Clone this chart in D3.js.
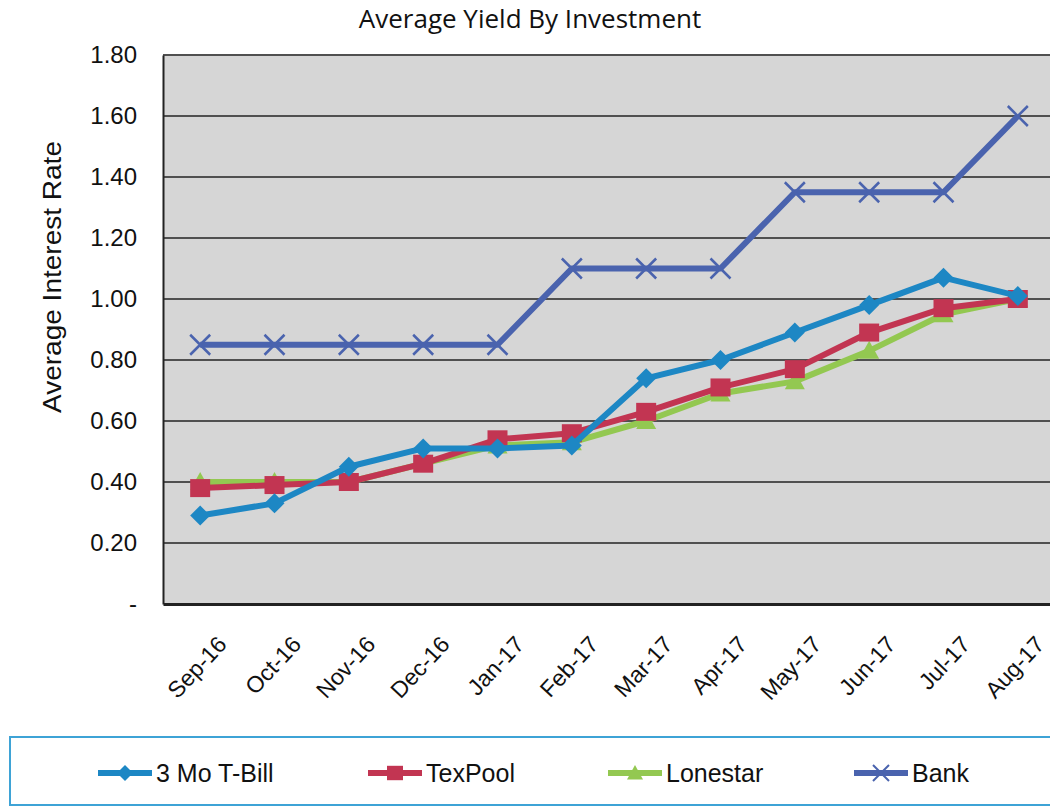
<!DOCTYPE html>
<html>
<head>
<meta charset="utf-8">
<script src="https://cdn.jsdelivr.net/npm/d3@7"></script>
<style>
  body { margin: 0; background: #fff; }
  svg { display: block; }
</style>
</head>
<body>
<svg id="chart" width="1050" height="808"></svg>
<script>
const months = ["Sep-16", "Oct-16", "Nov-16", "Dec-16", "Jan-17", "Feb-17", "Mar-17", "Apr-17", "May-17", "Jun-17", "Jul-17", "Aug-17"];
const tBill = [0.29, 0.33, 0.45, 0.51, 0.51, 0.52, 0.74, 0.80, 0.89, 0.98, 1.07, 1.01];
const texPool = [0.38, 0.39, 0.40, 0.46, 0.54, 0.56, 0.63, 0.71, 0.77, 0.89, 0.97, 1.00];
const lonestar = [0.40, 0.40, 0.40, 0.46, 0.52, 0.53, 0.60, 0.69, 0.73, 0.83, 0.95, 1.00];
const bank = [0.85, 0.85, 0.85, 0.85, 0.85, 1.10, 1.10, 1.10, 1.35, 1.35, 1.35, 1.60];
const yTicks = [0, 0.2, 0.4, 0.6, 0.8, 1.0, 1.2, 1.4, 1.6, 1.8];

const series = [
	{name: "3 Mo T-Bill", values: tBill, color: "#1d87c4", marker: "diamond"},
	{name: "TexPool", values: texPool, color: "#c23552", marker: "square"},
	{name: "Lonestar", values: lonestar, color: "#93c851", marker: "triangle"},
	{name: "Bank", values: bank, color: "#4a63ae", marker: "x"}
];

const svg = d3.select("#chart");
const plotLeft = 163, plotRight = 1055, plotTop = 55, plotBottom = 604;
const font = "'Liberation Sans', Arial, sans-serif";

const x = d3.scaleBand().domain(months).range([plotLeft, plotRight]);
const y = d3.scaleLinear().domain([0, 1.8]).range([plotBottom, plotTop]);

svg.append("text")
	.attr("x", 530).attr("y", 28)
	.attr("text-anchor", "middle")
	.style("font-family", "'Open Sans', sans-serif")
	.style("font-size", "26px")
	.attr("fill", "#111")
	.text("Average Yield By Investment");

// plot background
svg.append("rect")
	.attr("x", plotLeft).attr("y", plotTop)
	.attr("width", plotRight - plotLeft).attr("height", plotBottom - plotTop)
	.attr("fill", "#d6d6d6");

// gridlines
svg.append("g")
	.selectAll("line")
	.data(yTicks.filter(d => d > 0))
	.join("line")
	.attr("x1", plotLeft).attr("x2", plotRight)
	.attr("y1", d => y(d)).attr("y2", d => y(d))
	.attr("stroke", "#505050")
	.attr("stroke-width", 2);

// y axis
const yAxis = svg.append("g")
	.attr("transform", `translate(${plotLeft},0)`)
	.call(d3.axisLeft(y).tickValues(yTicks).tickSize(0).tickPadding(26)
		.tickFormat(d => d === 0 ? "-" : d3.format(".2f")(d)));
yAxis.select(".domain").attr("stroke", "#222").attr("stroke-width", 2);
yAxis.selectAll("text")
	.style("font-family", font)
	.style("font-size", "24px")
	.attr("fill", "#111");

// x axis
const xAxis = svg.append("g")
	.attr("transform", `translate(0,${plotBottom})`)
	.call(d3.axisBottom(x).tickSize(0));
xAxis.select(".domain").attr("stroke", "#222").attr("stroke-width", 3);
xAxis.selectAll("text")
	.style("font-family", font)
	.style("font-size", "23px")
	.attr("fill", "#111")
	.attr("text-anchor", "end")
	.attr("x", 0).attr("y", 0)
	.attr("dy", "0.35em")
	.attr("transform", "translate(22,36) rotate(-47)");

svg.append("text")
	.attr("transform", "translate(61,277) rotate(-90)")
	.attr("text-anchor", "middle")
	.attr("textLength", 272)
	.attr("lengthAdjust", "spacingAndGlyphs")
	.style("font-family", font)
	.style("font-size", "25px")
	.attr("fill", "#111")
	.text("Average Interest Rate");

function markerPath(type) {
	if (type === "diamond") return "M0,-10L10,0L0,10L-10,0Z";
	if (type === "square") return "M-10,-9H10V9H-10Z";
	if (type === "triangle") return "M0,-10L10,8H-10Z";
	return "M-10,-10L10,10M10,-10L-10,10";
}

function drawMarker(sel, s) {
	const p = sel.append("path").attr("d", markerPath(s.marker));
	if (s.marker === "x") p.attr("fill", "none").attr("stroke", s.color).attr("stroke-width", 2.5);
	else p.attr("fill", s.color);
}

const line = d3.line()
	.x((d, i) => x(months[i]) + x.bandwidth() / 2)
	.y(d => y(d));

const plot = svg.append("g");
series.slice().reverse().forEach(s => {
	const g = plot.append("g");
	g.append("path")
		.attr("d", line(s.values))
		.attr("fill", "none")
		.attr("stroke", s.color)
		.attr("stroke-width", 6)
		.attr("stroke-linejoin", "round");
	s.values.forEach((v, i) => {
		const m = g.append("g")
			.attr("transform", `translate(${x(months[i]) + x.bandwidth() / 2},${y(v)})`);
		drawMarker(m, s);
	});
});

// legend
svg.append("rect")
	.attr("x", 10).attr("y", 737)
	.attr("width", 1060).attr("height", 68)
	.attr("fill", "#fff")
	.attr("stroke", "#3ea3d6")
	.attr("stroke-width", 2);

const legendX = [98, 368, 608, 854];
series.forEach((s, i) => {
	const g = svg.append("g").attr("transform", `translate(${legendX[i]},773)`);
	g.append("line")
		.attr("x1", 0).attr("x2", 54)
		.attr("stroke", s.color).attr("stroke-width", 6);
	const m = g.append("g").attr("transform", "translate(27,0) scale(0.8)");
	drawMarker(m, s);
	g.append("text")
		.attr("x", 58).attr("y", 9)
		.style("font-family", font)
		.style("font-size", "25px")
		.attr("fill", "#111")
		.text(s.name);
});
</script>
</body>
</html>
